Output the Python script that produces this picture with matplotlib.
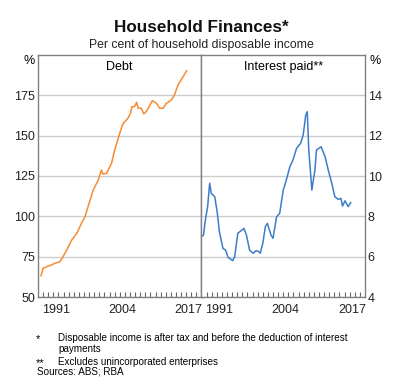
import matplotlib
matplotlib.use("Agg")
import matplotlib.pyplot as plt
from matplotlib.ticker import FixedLocator

plt.rcParams['font.family'] = ['Liberation Sans', 'DejaVu Sans']

# Debt, per cent of household disposable income
debt_years = [1988.6, 1989.0, 1989.7, 1990.3, 1991.3, 1992.3, 1992.9, 1993.6, 1994.6,
              1995.6, 1996.5, 1997.2, 1997.8, 1998.8, 1999.8, 2000.4, 2000.7, 2001.4,
              2002.4, 2003.0, 2004.0, 2004.6, 2005.6, 2006.1, 2006.4, 2006.9, 2007.3,
              2007.6, 2008.2, 2008.7, 2009.2, 2009.9, 2010.4, 2011.2, 2011.8, 2012.5,
              2013.1, 2014.1, 2014.7, 2015.4, 2016.0, 2016.6, 2017.1]
debt = [63.2, 67.8, 68.8, 69.4, 70.9, 71.9, 75.0, 79.0, 85.3,
        89.5, 95.6, 99.8, 106.0, 116.3, 122.5, 128.7, 126.2, 126.6,
        132.9, 141.1, 151.5, 157.2, 160.8, 163.9, 168.0, 168.0, 170.7,
        167.0, 167.0, 163.5, 164.9, 169.0, 171.7, 170.0, 167.0, 167.0,
        170.0, 172.1, 175.2, 181.4, 184.5, 187.6, 190.3]

# Interest paid, per cent of household disposable income
int_years = [1988.0, 1988.4, 1988.7, 1989.2, 1989.6, 1989.9, 1990.6, 1991.1, 1991.5,
             1992.2, 1992.7, 1993.2, 1994.1, 1994.5, 1995.1, 1996.3, 1996.8, 1997.4,
             1998.1, 1998.7, 1999.2, 1999.5, 2000.0, 2000.5, 2000.9, 2001.6, 2002.0,
             2002.7, 2003.3, 2004.0, 2004.6, 2005.3, 2005.9, 2006.6, 2007.4, 2007.9,
             2008.4, 2008.7, 2009.0, 2009.6, 2010.2, 2010.5, 2011.4, 2012.2, 2012.8,
             2013.5, 2014.1, 2014.8, 2015.3, 2015.6, 2016.1, 2016.7, 2017.2]
interest = [7.0, 7.07, 7.73, 8.48, 9.64, 9.14, 8.97, 8.15, 7.24,
            6.41, 6.33, 5.97, 5.80, 6.0, 7.16, 7.40, 7.07, 6.33,
            6.17, 6.3, 6.25, 6.17, 6.66, 7.49, 7.65, 7.07, 6.91,
            7.98, 8.15, 9.30, 9.80, 10.46, 10.79, 11.37, 11.62, 12.03,
            13.02, 13.19, 11.29, 9.30, 10.30, 11.29, 11.45, 10.95, 10.30,
            9.64, 8.97, 8.84, 8.89, 8.51, 8.77, 8.48, 8.68]

year_labels = ['1991', '2004', '2017']
left_ticks = [50, 75, 100, 125, 150, 175]
right_ticks = [4, 6, 8, 10, 12, 14]

W, H = 402, 382
fig = plt.figure(figsize=(W / 100, H / 100), dpi=100)
x0, x1, y0, y1 = 38, 365, 297, 55
xm = (x0 + x1) / 2
ax1 = fig.add_axes([x0 / W, 1 - y0 / H, (xm - x0) / W, (y0 - y1) / H])
ax2 = fig.add_axes([xm / W, 1 - y0 / H, (x1 - xm) / W, (y0 - y1) / H])

grey = '#808080'
for ax in (ax1, ax2):
    ax.set_xlim(1988, 2020)
    ax.xaxis.set_major_locator(FixedLocator([1991.5, 2004.5, 2017.5]))
    ax.set_xticklabels(year_labels)
    ax.xaxis.set_minor_locator(FixedLocator(range(1989, 2020)))
    ax.tick_params(axis='x', which='major', length=0, pad=5, labelsize=9, colors='#222222')
    ax.tick_params(axis='x', which='minor', direction='in', length=3.5, width=0.8, color='#666666')
    ax.tick_params(axis='y', length=0, labelsize=9, colors='#222222', pad=2)
    for s in ax.spines.values():
        s.set_color(grey)
        s.set_linewidth(1.0)
    ax.grid(axis='y', color='#cccccc', linewidth=1.0)
    ax.set_axisbelow(True)

ax1.set_ylim(50, 200)
ax1.set_yticks(left_ticks)
ax1.plot(debt_years, debt, color='#f68b33', linewidth=1.1)

ax2.set_ylim(4, 16)
ax2.set_yticks(right_ticks)
ax2.yaxis.tick_right()
ax2.plot(int_years, interest, color='#3d7cc9', linewidth=1.1)

ax1.text(0.5, 0.975, 'Debt', transform=ax1.transAxes, ha='center', va='top', fontsize=9)
ax2.text(0.5, 0.975, 'Interest paid**', transform=ax2.transAxes, ha='center', va='top', fontsize=9)
ax1.text(-0.02, 1.0, '%', transform=ax1.transAxes, ha='right', va='top', fontsize=9)
ax2.text(1.03, 1.0, '%', transform=ax2.transAxes, ha='left', va='top', fontsize=9)

fig.text(201 / W, 1 - 28 / H, 'Household Finances*', ha='center', va='center',
         fontsize=12.3, fontweight='bold', color='#111111')
fig.text(201 / W, 1 - 45 / H, 'Per cent of household disposable income', ha='center',
         va='center', fontsize=8.8, color='#222222')

fs = 7.1
fig.text(36 / W, 1 - 339 / H, '*', ha='left', va='center', fontsize=8)
fig.text(58 / W, 1 - 338 / H, 'Disposable income is after tax and before the deduction of interest',
         ha='left', va='center', fontsize=fs)
fig.text(58 / W, 1 - 349 / H, 'payments', ha='left', va='center', fontsize=fs)
fig.text(36 / W, 1 - 363 / H, '**', ha='left', va='center', fontsize=8)
fig.text(58 / W, 1 - 362 / H, 'Excludes unincorporated enterprises', ha='left', va='center', fontsize=fs)
fig.text(37 / W, 1 - 372 / H, 'Sources: ABS; RBA', ha='left', va='center', fontsize=fs)

fig.savefig('out.png', dpi=100)
